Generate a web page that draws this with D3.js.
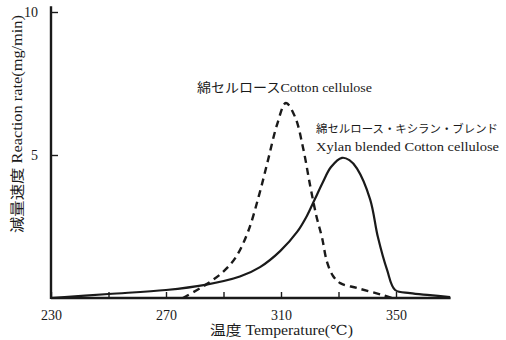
<!DOCTYPE html>
<html>
<head>
<meta charset="utf-8">
<script src="https://cdn.jsdelivr.net/npm/d3@7"></script>
<style>
  html, body { margin: 0; padding: 0; background: #fff; }
  svg { display: block; }
  text { fill: #1a1a1a; font-family: "Liberation Serif", "DejaVu Serif", "Noto Sans CJK JP", serif; }
</style>
</head>
<body>
<svg id="chart" width="506" height="340"></svg>
<script>
// Reaction rate (mg/min) versus temperature (°C)
const cottonTemp  = [275.9, 283.6, 289.8, 294.3, 298.5, 302.3, 305.5, 308.6, 311.7, 314.9, 317.7, 320.1, 322.3, 324.3, 326.0, 328.1, 330.6, 336.4, 345.5, 348.6];
const cottonRate  = [0.00, 0.45, 0.91, 1.43, 2.31, 3.57, 4.83, 6.05, 6.82, 6.33, 5.24, 3.95, 2.87, 2.10, 1.26, 0.77, 0.52, 0.35, 0.10, 0.00];

const blendTemp   = [230, 250, 270, 283.6, 295.7, 302.7, 309.7, 315.6, 319.0, 321.8, 324.6, 327.4, 331.2, 333.8, 336.4, 341.0, 343.7, 346.9, 349.7, 354.9, 361.8, 368.8];
const blendRate   = [0.00, 0.14, 0.28, 0.46, 0.75, 1.08, 1.64, 2.31, 2.87, 3.46, 4.06, 4.58, 4.90, 4.82, 4.53, 3.45, 2.13, 0.98, 0.28, 0.17, 0.10, 0.03];

const xTicks      = [230, 250, 270, 290, 310, 330, 350];
const xTickLabels = [230, 270, 310, 350];
const yTicks      = [5, 10];

const cottonLabel = "綿セルロースCotton cellulose";
const blendLabelJa = "綿セルロース・キシラン・ブレンド";
const blendLabelEn = "Xylan blended Cotton cellulose";
const xTitle = "温度 Temperature(℃)";
const yTitle = "減量速度 Reaction rate(mg/min)";

const svg = d3.select("#chart");

const x = d3.scaleLinear().domain([230, 350]).range([51, 396]);
const y = d3.scaleLinear().domain([0, 10]).range([298, 12]);

const ink = "#1a1a1a";

// x axis: ticks point inward, only some are labelled
const xAxis = d3.axisBottom(x)
  .tickValues(xTicks)
  .tickSizeInner(-6)
  .tickSizeOuter(0)
  .tickPadding(12)
  .tickFormat(d => xTickLabels.includes(d) ? d : "");
const gx = svg.append("g").attr("transform", `translate(0,${y(0)})`).call(xAxis);
gx.select(".domain").remove();
gx.selectAll(".tick line").attr("stroke", ink).attr("stroke-width", 1.4);
gx.selectAll(".tick text").attr("font-size", 14).attr("fill", ink);
svg.append("line")
  .attr("x1", x(230)).attr("x2", x(369))
  .attr("y1", y(0)).attr("y2", y(0))
  .attr("stroke", ink).attr("stroke-width", 2.4);

// y axis
const yAxis = d3.axisLeft(y)
  .tickValues(yTicks)
  .tickSizeInner(-7)
  .tickSizeOuter(0)
  .tickPadding(13);
const gy = svg.append("g").attr("transform", `translate(${x(230)},0)`).call(yAxis);
gy.select(".domain").remove();
gy.selectAll(".tick line").attr("stroke", ink).attr("stroke-width", 1.4);
gy.selectAll(".tick text").attr("font-size", 14).attr("fill", ink);
svg.append("line")
  .attr("x1", x(230)).attr("x2", x(230))
  .attr("y1", y(10.2)).attr("y2", y(0) + 1)
  .attr("stroke", ink).attr("stroke-width", 2.4);

// curves
const line = d3.line()
  .x(d => x(d[0]))
  .y(d => y(d[1]))
  .curve(d3.curveCatmullRom.alpha(0.5));

svg.append("path")
  .datum(d3.zip(blendTemp, blendRate))
  .attr("d", line)
  .attr("fill", "none")
  .attr("stroke", ink)
  .attr("stroke-width", 2.2);

svg.append("path")
  .datum(d3.zip(cottonTemp, cottonRate))
  .attr("d", line)
  .attr("fill", "none")
  .attr("stroke", ink)
  .attr("stroke-width", 2.4)
  .attr("stroke-dasharray", "7,5");

// annotations
function label(txt, x0, yc, len, size) {
  svg.append("text")
    .attr("x", x0).attr("y", yc)
    .attr("dominant-baseline", "central")
    .attr("font-size", size)
    .attr("textLength", len)
    .attr("lengthAdjust", "spacingAndGlyphs")
    .text(txt);
}
label(cottonLabel, 197, 87, 175, 13);
label(blendLabelJa, 316, 129, 182, 11.3);
label(blendLabelEn, 316, 146, 183, 13.5);

// axis titles
label(xTitle, 210, 330, 143, 14);

svg.append("text")
  .attr("transform", `translate(17,${(15 + 233) / 2}) rotate(-90)`)
  .attr("text-anchor", "middle")
  .attr("dominant-baseline", "central")
  .attr("font-size", 14)
  .attr("textLength", 218)
  .attr("lengthAdjust", "spacingAndGlyphs")
  .text(yTitle);
</script>
</body>
</html>
